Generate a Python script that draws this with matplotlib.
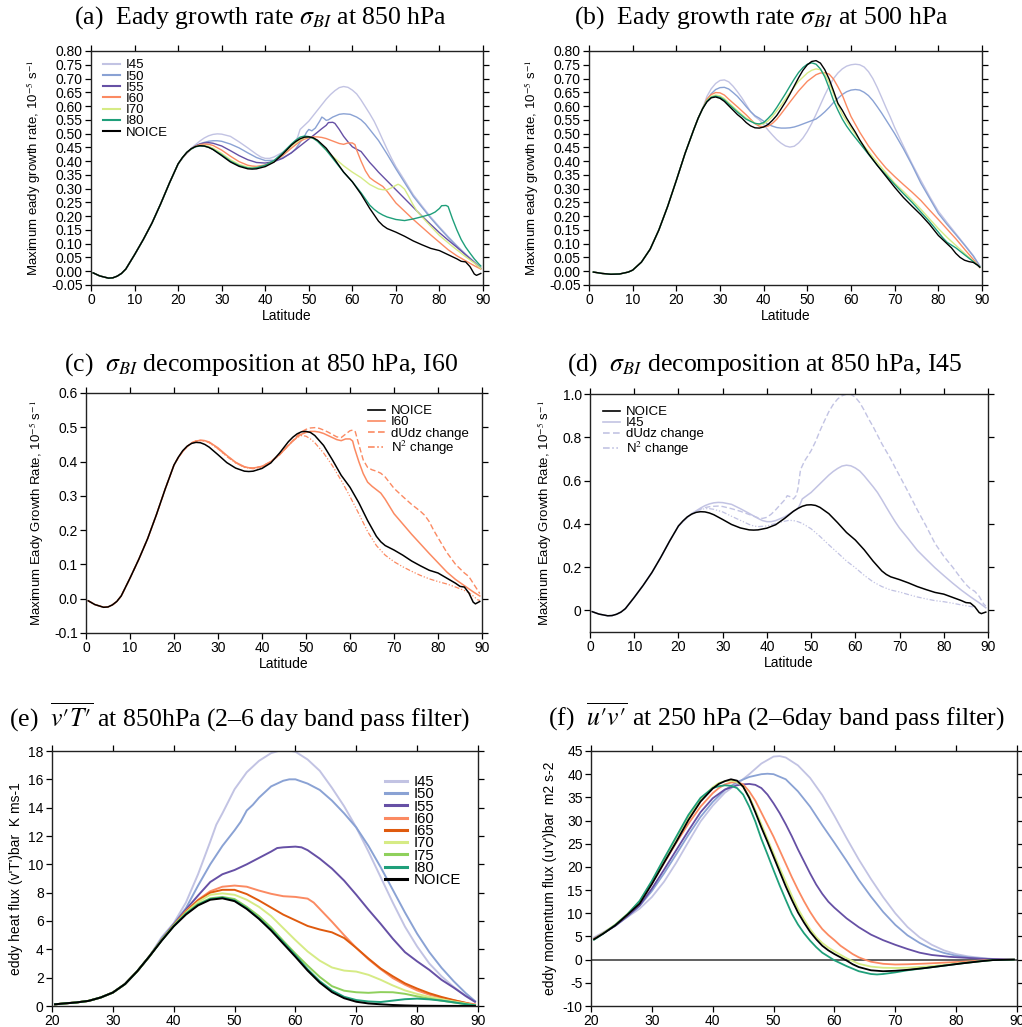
import numpy as np
import matplotlib
matplotlib.use("Agg")
import matplotlib.pyplot as plt

plt.rcParams['font.family'] = ['Liberation Sans', 'DejaVu Sans']
plt.rcParams['mathtext.fontset'] = 'stix'
plt.rcParams['axes.unicode_minus'] = False

# ---------------------------------------------------------------- colours
COLORS = {
    'I45': '#c2c3e3', 'I50': '#8aa2d4', 'I55': '#6650a5', 'I60': '#fb8a62',
    'I65': '#df5a0e', 'I70': '#d6eb85', 'I75': '#8fd05c', 'I80': '#1f9f7a',
    'NOICE': 'black',
}

# ------------------------------------------------ 850 hPa growth rate (a, c, d)
# all runs coincide south of 20N
g850_low = [(0.5, -0.006), (2, -0.017), (4, -0.025), (5, -0.024), (6, -0.018),
            (7, -0.008), (8, 0.008), (10, 0.06), (12, 0.115), (14, 0.175),
            (16, 0.245), (18, 0.32), (20, 0.39)]

g850_noice = [(21, 0.413), (22, 0.432), (23, 0.445), (24, 0.453), (25, 0.456),
              (26, 0.455), (27, 0.45), (28, 0.442), (30, 0.42), (32, 0.397),
              (34, 0.381), (36, 0.372), (37, 0.371), (38, 0.372), (40, 0.38),
              (42, 0.396), (44, 0.425), (46, 0.458), (47, 0.471), (48, 0.481),
              (49, 0.487), (50, 0.488), (51, 0.485), (52, 0.476), (54, 0.447),
              (56, 0.405), (58, 0.36), (60, 0.325), (62, 0.28), (64, 0.228),
              (66, 0.182), (67, 0.166), (68, 0.155), (70, 0.142), (72, 0.127),
              (74, 0.11), (76, 0.096), (78, 0.083), (80, 0.075), (82, 0.06),
              (84, 0.045), (85, 0.036), (86, 0.034), (87, 0.017), (88, -0.01),
              (88.5, -0.015), (89.5, -0.008)]

g850_i80 = [(21, 0.413), (22, 0.432), (23, 0.444), (24, 0.452), (25, 0.455),
            (26, 0.454), (27, 0.45), (28, 0.443), (30, 0.423), (32, 0.4),
            (34, 0.384), (36, 0.375), (37, 0.374), (38, 0.376), (40, 0.385),
            (42, 0.402), (44, 0.43), (46, 0.462), (47, 0.476), (48, 0.487),
            (49, 0.491), (50, 0.489), (51, 0.483), (52, 0.472), (54, 0.44),
            (56, 0.4), (58, 0.36), (60, 0.325), (62, 0.285), (64, 0.24),
            (65, 0.225), (66, 0.213), (67, 0.204), (68, 0.197), (70, 0.188),
            (72, 0.184), (74, 0.19), (76, 0.198), (78, 0.207), (79, 0.215),
            (80, 0.228), (80.5, 0.238), (81.5, 0.239), (82, 0.235), (83, 0.19),
            (84, 0.15), (85, 0.115), (86, 0.088), (87, 0.066), (88, 0.045),
            (89, 0.027), (89.5, 0.019)]

g850_i70 = [(21, 0.413), (22, 0.432), (23, 0.444), (24, 0.453), (25, 0.457),
            (26, 0.457), (27, 0.454), (28, 0.447), (30, 0.428), (32, 0.405),
            (34, 0.388), (36, 0.378), (37, 0.376), (38, 0.377), (40, 0.384),
            (42, 0.398), (44, 0.425), (46, 0.455), (48, 0.478), (49, 0.485),
            (50, 0.487), (51, 0.483), (52, 0.474), (54, 0.44), (56, 0.41),
            (58, 0.383), (60, 0.36), (62, 0.34), (64, 0.315), (66, 0.299),
            (67, 0.296), (68, 0.296), (69, 0.303), (70, 0.312), (70.5, 0.316),
            (71, 0.312), (72, 0.298), (73, 0.27), (74, 0.24), (75, 0.215),
            (77, 0.18), (80, 0.13), (83, 0.09), (86, 0.053), (88, 0.03),
            (89.5, 0.01)]

g850_i60 = [(21, 0.412), (22, 0.43), (23, 0.444), (24, 0.454), (25, 0.46),
            (26, 0.462), (27, 0.461), (28, 0.457), (30, 0.44), (32, 0.418),
            (34, 0.398), (36, 0.385), (37, 0.382), (38, 0.381), (40, 0.386),
            (42, 0.4), (44, 0.42), (46, 0.447), (48, 0.472), (49, 0.48),
            (50, 0.485), (51, 0.488), (52, 0.488), (53, 0.486), (54, 0.482),
            (55, 0.476), (56, 0.47), (57, 0.464), (58, 0.461), (59, 0.466),
            (60, 0.466), (60.6, 0.46), (61, 0.44), (62, 0.4), (63, 0.365),
            (64, 0.34), (65, 0.328), (66, 0.318), (67, 0.308), (68, 0.29),
            (70, 0.248), (72, 0.218), (74, 0.188), (76, 0.16), (78, 0.132),
            (80, 0.105), (82, 0.078), (84, 0.056), (86, 0.038), (88, 0.02),
            (89.5, 0.008)]

g850_i55 = [(21, 0.412), (22, 0.43), (23, 0.444), (24, 0.455), (25, 0.462),
            (26, 0.466), (27, 0.467), (28, 0.465), (30, 0.455), (32, 0.438),
            (34, 0.42), (36, 0.405), (38, 0.395), (40, 0.393), (42, 0.398),
            (44, 0.41), (46, 0.43), (48, 0.455), (50, 0.48), (52, 0.505),
            (53, 0.518), (54, 0.53), (54.5, 0.54), (55.5, 0.541), (56, 0.537),
            (57, 0.515), (58, 0.49), (59, 0.47), (60, 0.452), (61, 0.443),
            (62, 0.435), (63, 0.415), (64, 0.395), (65, 0.378), (66, 0.36),
            (68, 0.328), (70, 0.296), (72, 0.264), (74, 0.232), (76, 0.2),
            (78, 0.17), (80, 0.14), (82, 0.113), (84, 0.087), (86, 0.06),
            (88, 0.032), (89.5, 0.01)]

g850_i50 = [(21, 0.412), (22, 0.43), (23, 0.444), (24, 0.455), (25, 0.463),
            (26, 0.468), (27, 0.472), (28, 0.474), (29, 0.474), (30, 0.472),
            (32, 0.462), (34, 0.448), (36, 0.43), (38, 0.413), (40, 0.402),
            (42, 0.403), (44, 0.412), (46, 0.43), (47, 0.445), (48, 0.468),
            (49, 0.49), (49.5, 0.505), (50, 0.515), (50.7, 0.51), (51.5, 0.52),
            (52.5, 0.545), (53, 0.56), (53.5, 0.555), (54, 0.548), (54.5, 0.55),
            (55.5, 0.56), (57, 0.57), (58, 0.572), (59.5, 0.57), (61, 0.56),
            (62, 0.55), (63, 0.535), (64, 0.515), (65, 0.495), (66, 0.475),
            (68, 0.425), (70, 0.372), (72, 0.322), (74, 0.272), (76, 0.232),
            (78, 0.193), (80, 0.157), (82, 0.123), (84, 0.091), (86, 0.06),
            (88, 0.032), (89.5, 0.011)]

g850_i45 = [(21, 0.41), (22, 0.43), (23, 0.447), (24, 0.46), (25, 0.473),
            (26, 0.484), (27, 0.492), (28, 0.497), (29, 0.499), (30, 0.498),
            (32, 0.49), (34, 0.47), (36, 0.448), (38, 0.425), (39, 0.415),
            (40, 0.41), (41, 0.41), (42, 0.415), (44, 0.432), (45, 0.445),
            (46, 0.458), (47, 0.47), (47.5, 0.49), (48, 0.515), (49, 0.53),
            (50, 0.545), (51, 0.565), (52, 0.585), (53, 0.605), (54, 0.625),
            (55, 0.642), (56, 0.656), (57, 0.667), (58, 0.671), (59, 0.668),
            (60, 0.658), (61, 0.644), (62, 0.622), (63, 0.597), (64, 0.572),
            (65, 0.545), (66, 0.512), (67, 0.477), (68, 0.443), (69, 0.41),
            (70, 0.38), (72, 0.33), (74, 0.278), (76, 0.237), (78, 0.197),
            (80, 0.161), (82, 0.126), (84, 0.093), (86, 0.063), (88, 0.035),
            (89.5, 0.012)]

# decomposition of the I60 change
g850_i60_dudz = [(21, 0.412), (22, 0.43), (23, 0.444), (24, 0.455), (25, 0.46),
                 (26, 0.462), (27, 0.461), (28, 0.456), (30, 0.438), (32, 0.416),
                 (34, 0.397), (36, 0.384), (37, 0.381), (38, 0.381), (40, 0.386),
                 (42, 0.4), (44, 0.42), (46, 0.448), (48, 0.475), (49, 0.487),
                 (50, 0.494), (51, 0.498), (52, 0.499), (53, 0.497), (54, 0.492),
                 (55, 0.486), (56, 0.479), (57, 0.472), (58, 0.47), (59, 0.48),
                 (60, 0.49), (60.7, 0.492), (61.2, 0.487), (62, 0.45), (63, 0.405),
                 (64, 0.383), (65, 0.376), (66, 0.372), (67, 0.366), (68, 0.355),
                 (70, 0.322), (72, 0.298), (74, 0.275), (76, 0.255), (77, 0.243),
                 (78, 0.225), (79, 0.2), (80, 0.178), (82, 0.135), (84, 0.1),
                 (86, 0.075), (87, 0.065), (88, 0.045), (89, 0.025), (89.5, 0.015)]

g850_i60_n2 = [(21, 0.412), (22, 0.43), (23, 0.444), (24, 0.454), (25, 0.459),
               (26, 0.461), (27, 0.46), (28, 0.455), (30, 0.437), (32, 0.415),
               (34, 0.396), (36, 0.383), (38, 0.379), (40, 0.384), (42, 0.398),
               (44, 0.42), (46, 0.447), (47, 0.46), (48, 0.47), (49, 0.476),
               (50, 0.474), (51, 0.466), (52, 0.455), (54, 0.425), (56, 0.388),
               (58, 0.345), (60, 0.298), (62, 0.248), (64, 0.196), (66, 0.155),
               (68, 0.127), (70, 0.108), (72, 0.093), (74, 0.08), (76, 0.068),
               (78, 0.058), (80, 0.05), (82, 0.043), (84, 0.034), (86, 0.024),
               (87, 0.018), (88, 0.008), (89, -0.003), (89.5, -0.005)]

# decomposition of the I45 change
g850_i45_dudz = [(21, 0.41), (22, 0.43), (23, 0.445), (24, 0.458), (25, 0.468),
                 (26, 0.475), (27, 0.479), (28, 0.481), (29, 0.482), (30, 0.48),
                 (32, 0.47), (34, 0.458), (36, 0.443), (38, 0.428), (39, 0.425),
                 (40, 0.43), (41, 0.445), (42, 0.465), (43, 0.488), (44, 0.51),
                 (44.6, 0.53), (45.3, 0.525), (46, 0.515), (46.6, 0.53), (47, 0.56),
                 (47.6, 0.65), (48.5, 0.69), (49.3, 0.715), (50, 0.738), (51, 0.78),
                 (52, 0.83), (53, 0.875), (54, 0.918), (55, 0.952), (56, 0.977),
                 (57, 0.992), (58, 0.999), (59, 0.998), (60, 0.985), (61, 0.96),
                 (62, 0.925), (63, 0.885), (64, 0.85), (65, 0.81), (66, 0.77),
                 (67, 0.735), (68, 0.7), (69, 0.66), (70, 0.622), (72, 0.545),
                 (74, 0.465), (76, 0.39), (78, 0.31), (80, 0.25), (82, 0.2),
                 (84, 0.145), (85, 0.12), (86, 0.1), (87, 0.088), (88, 0.065),
                 (89, 0.03), (89.5, 0.02)]

g850_i45_n2 = [(21, 0.41), (22, 0.43), (23, 0.446), (24, 0.458), (25, 0.466),
               (26, 0.47), (27, 0.47), (28, 0.467), (30, 0.455), (32, 0.435),
               (34, 0.416), (36, 0.397), (37, 0.39), (38, 0.387), (40, 0.39),
               (42, 0.402), (44, 0.412), (45, 0.416), (46, 0.415), (47, 0.41),
               (48, 0.402), (50, 0.377), (52, 0.342), (54, 0.303), (56, 0.266),
               (58, 0.228), (60, 0.197), (62, 0.162), (64, 0.132), (66, 0.11),
               (68, 0.094), (70, 0.085), (72, 0.073), (74, 0.062), (76, 0.053),
               (78, 0.045), (80, 0.04), (82, 0.033), (84, 0.025), (86, 0.018),
               (87, 0.015)]

# ------------------------------------------------ 500 hPa growth rate (b)
g500_low = [(1, -0.003), (3, -0.008), (5, -0.011), (7, -0.01), (9, -0.003),
            (10, 0.004), (12, 0.033), (14, 0.08), (16, 0.15), (18, 0.235),
            (20, 0.33), (22, 0.428), (24, 0.515), (25, 0.556), (26, 0.59)]

g500_noice = [(27, 0.615), (28, 0.63), (29, 0.633), (30, 0.628), (31, 0.617),
              (32, 0.601), (33, 0.585), (34, 0.569), (35, 0.556), (36, 0.54),
              (37, 0.528), (38, 0.521), (39, 0.52), (40, 0.524), (41, 0.533),
              (42, 0.548), (43, 0.566), (44, 0.59), (45, 0.615), (46, 0.643),
              (47, 0.673), (48, 0.703), (49, 0.73), (50, 0.75), (51, 0.762),
              (52, 0.765), (53, 0.756), (54, 0.732), (55, 0.698), (56, 0.655),
              (57, 0.61), (58, 0.585), (59, 0.556), (60, 0.53), (61, 0.505),
              (62, 0.477), (64, 0.427), (66, 0.385), (68, 0.345), (70, 0.305),
              (72, 0.268), (74, 0.236), (76, 0.205), (78, 0.17), (80, 0.13),
              (82, 0.1), (83, 0.085), (84, 0.065), (85, 0.05), (86, 0.04),
              (87, 0.035), (88, 0.032), (89, 0.022), (89.5, 0.015)]

g500_i80 = [(27, 0.618), (28, 0.632), (29, 0.636), (30, 0.632), (31, 0.622),
            (32, 0.607), (34, 0.578), (36, 0.552), (38, 0.537), (39, 0.535),
            (40, 0.54), (41, 0.555), (42, 0.572), (43, 0.595), (44, 0.62),
            (45, 0.645), (46, 0.672), (47, 0.698), (48, 0.722), (49, 0.74),
            (50, 0.752), (51, 0.757), (52, 0.752), (53, 0.735), (54, 0.706),
            (55, 0.665), (56, 0.62), (57, 0.585), (58, 0.553), (59, 0.527),
            (60, 0.505), (62, 0.465), (64, 0.425), (66, 0.385), (68, 0.35),
            (70, 0.315), (72, 0.282), (74, 0.25), (76, 0.215), (78, 0.18),
            (80, 0.142), (81, 0.122), (82, 0.105), (83, 0.095), (84, 0.085),
            (86, 0.06), (88, 0.035), (89.5, 0.015)]

g500_i70 = [(27, 0.62), (28, 0.635), (29, 0.64), (30, 0.637), (31, 0.627),
            (32, 0.612), (34, 0.583), (36, 0.556), (38, 0.538), (39, 0.533),
            (40, 0.536), (41, 0.546), (42, 0.562), (44, 0.603), (46, 0.648),
            (48, 0.69), (50, 0.72), (51, 0.73), (52, 0.735), (53, 0.732),
            (54, 0.715), (55, 0.685), (56, 0.645), (57, 0.605), (58, 0.57),
            (59, 0.545), (60, 0.52), (62, 0.475), (64, 0.435), (66, 0.395),
            (68, 0.358), (70, 0.32), (72, 0.29), (74, 0.258), (76, 0.225),
            (78, 0.19), (80, 0.155), (82, 0.123), (84, 0.094), (86, 0.065),
            (88, 0.036), (89.5, 0.015)]

g500_i60 = [(27, 0.625), (28, 0.642), (29, 0.649), (30, 0.648), (31, 0.64),
            (32, 0.625), (34, 0.597), (36, 0.568), (38, 0.536), (39, 0.527),
            (40, 0.524), (41, 0.527), (42, 0.537), (43, 0.552), (44, 0.572),
            (46, 0.614), (48, 0.655), (50, 0.69), (52, 0.714), (53, 0.72),
            (54, 0.721), (55, 0.716), (56, 0.698), (57, 0.67), (58, 0.64),
            (59, 0.6), (60, 0.562), (62, 0.505), (64, 0.455), (66, 0.413),
            (68, 0.375), (70, 0.344), (72, 0.315), (74, 0.287), (76, 0.257),
            (78, 0.222), (80, 0.188), (82, 0.153), (84, 0.118), (86, 0.08),
            (88, 0.043), (89.5, 0.013)]

g500_i50 = [(27, 0.622), (28, 0.645), (29, 0.66), (30, 0.667), (31, 0.668),
            (32, 0.662), (33, 0.649), (34, 0.635), (35, 0.617), (36, 0.598),
            (37, 0.58), (38, 0.565), (39, 0.556), (40, 0.545), (41, 0.534),
            (42, 0.527), (43, 0.522), (44, 0.52), (45, 0.52), (46, 0.521),
            (47, 0.524), (48, 0.529), (49, 0.535), (50, 0.541), (51, 0.547),
            (52, 0.553), (53, 0.565), (54, 0.579), (55, 0.595), (56, 0.613),
            (57, 0.628), (58, 0.642), (59, 0.652), (60, 0.658), (61, 0.66),
            (62, 0.658), (63, 0.65), (64, 0.638), (65, 0.62), (66, 0.598),
            (67, 0.575), (68, 0.55), (70, 0.5), (72, 0.445), (74, 0.385),
            (76, 0.32), (78, 0.265), (80, 0.21), (82, 0.17), (84, 0.133),
            (86, 0.095), (88, 0.055), (89.5, 0.018)]

g500_i45 = [(27, 0.635), (28, 0.663), (29, 0.682), (30, 0.693), (31, 0.695),
            (32, 0.688), (33, 0.672), (34, 0.652), (35, 0.63), (36, 0.605),
            (37, 0.58), (38, 0.562), (39, 0.55), (40, 0.532), (41, 0.513),
            (42, 0.495), (43, 0.478), (44, 0.465), (45, 0.455), (46, 0.451),
            (47, 0.454), (48, 0.466), (49, 0.484), (50, 0.508), (51, 0.537),
            (52, 0.57), (53, 0.605), (54, 0.64), (55, 0.672), (56, 0.7),
            (57, 0.72), (58, 0.735), (59, 0.745), (60, 0.75), (61, 0.752),
            (62, 0.75), (63, 0.742), (64, 0.725), (65, 0.7), (66, 0.668),
            (67, 0.632), (68, 0.595), (69, 0.56), (70, 0.522), (72, 0.455),
            (74, 0.39), (76, 0.33), (78, 0.272), (80, 0.218), (82, 0.177),
            (84, 0.137), (86, 0.097), (88, 0.057), (89.5, 0.02)]

# ------------------------------------------------ v'T' at 850 hPa (e)
vt_low = [(20.5, 0.12), (22, 0.18), (24, 0.25), (26, 0.36), (28, 0.6),
          (30, 0.95), (32, 1.55), (34, 2.45), (36, 3.5)]

vt_noice = [(38, 4.6), (40, 5.62), (42, 6.45), (44, 7.1), (46, 7.5), (48, 7.6),
            (50, 7.4), (52, 6.85), (54, 6.15), (56, 5.33), (58, 4.4), (60, 3.47),
            (62, 2.5), (64, 1.65), (66, 0.98), (68, 0.55), (70, 0.3), (72, 0.18),
            (74, 0.12), (76, 0.07), (78, 0.04), (80, 0.02), (84, 0.01), (89.5, 0.0)]
vt_i80 = [(38, 4.62), (40, 5.65), (42, 6.5), (44, 7.15), (46, 7.55), (48, 7.65),
          (50, 7.45), (52, 6.9), (54, 6.2), (56, 5.4), (58, 4.5), (60, 3.58),
          (62, 2.6), (64, 1.75), (66, 1.1), (68, 0.65), (70, 0.42), (72, 0.32),
          (74, 0.28), (76, 0.38), (78, 0.48), (80, 0.52), (82, 0.47), (84, 0.38),
          (86, 0.26), (88, 0.13), (89.5, 0.05)]
vt_i75 = [(38, 4.63), (40, 5.66), (42, 6.55), (44, 7.2), (46, 7.6), (48, 7.7),
          (50, 7.55), (52, 7.0), (54, 6.35), (56, 5.55), (58, 4.6), (60, 3.7),
          (62, 2.85), (64, 2.05), (66, 1.4), (68, 1.08), (70, 0.97), (72, 0.93),
          (74, 0.98), (76, 0.97), (78, 0.86), (80, 0.68), (82, 0.52), (84, 0.38),
          (86, 0.25), (88, 0.13), (89.5, 0.05)]
vt_i70 = [(38, 4.64), (40, 5.68), (42, 6.6), (44, 7.35), (46, 7.85), (48, 7.95),
          (50, 7.85), (52, 7.5), (54, 7.0), (56, 6.35), (58, 5.5), (60, 4.65),
          (62, 3.85), (64, 3.2), (66, 2.72), (68, 2.5), (70, 2.43), (72, 2.2),
          (74, 1.85), (76, 1.45), (78, 1.1), (80, 0.85), (82, 0.65), (84, 0.48),
          (86, 0.32), (88, 0.18), (89.5, 0.05)]
vt_i65 = [(38, 4.65), (40, 5.7), (42, 6.65), (44, 7.45), (46, 8.0), (48, 8.2),
          (50, 8.2), (52, 7.9), (54, 7.45), (56, 6.95), (58, 6.45), (60, 6.05),
          (62, 5.65), (64, 5.4), (66, 5.2), (68, 4.8), (70, 4.1), (72, 3.35),
          (74, 2.65), (76, 2.1), (78, 1.6), (80, 1.23), (82, 0.9), (84, 0.64),
          (86, 0.42), (88, 0.22), (89.5, 0.05)]
vt_i60 = [(38, 4.66), (40, 5.72), (42, 6.7), (44, 7.5), (46, 8.1), (48, 8.42),
          (50, 8.5), (52, 8.42), (54, 8.15), (56, 7.92), (58, 7.75), (60, 7.7),
          (62, 7.58), (63, 7.3), (64, 6.85), (66, 5.95), (68, 5.0), (70, 4.1),
          (72, 3.3), (74, 2.6), (76, 1.97), (78, 1.5), (80, 1.1), (82, 0.8),
          (84, 0.57), (86, 0.4), (88, 0.22), (89.5, 0.12)]
vt_i55 = [(38, 4.68), (40, 5.75), (42, 6.8), (44, 7.8), (46, 8.75), (48, 9.3),
          (50, 9.6), (52, 10.0), (54, 10.45), (56, 10.9), (57, 11.15), (58, 11.2),
          (60, 11.25), (61, 11.2), (62, 11.0), (64, 10.4), (66, 9.7), (68, 8.85),
          (70, 7.85), (72, 6.8), (74, 5.8), (76, 4.75), (78, 3.8), (80, 3.15),
          (82, 2.55), (84, 1.85), (86, 1.3), (88, 0.7), (89.5, 0.3)]
vt_i50 = [(38, 4.75), (40, 5.8), (42, 6.9), (44, 8.5), (46, 10.0), (48, 11.3),
          (50, 12.4), (51, 13.0), (52, 13.8), (53, 14.2), (54, 14.7), (56, 15.5),
          (58, 15.9), (59, 16.0), (60, 16.0), (62, 15.7), (64, 15.25), (66, 14.5),
          (68, 13.6), (70, 12.6), (72, 11.3), (74, 9.8), (76, 8.2), (78, 6.6),
          (80, 5.1), (82, 3.8), (84, 2.7), (86, 1.75), (88, 0.9), (89.5, 0.35)]
vt_i45 = [(38, 4.85), (40, 5.85), (42, 7.3), (44, 9.3), (46, 11.6), (47, 12.8),
          (48, 13.6), (50, 15.3), (52, 16.5), (54, 17.3), (56, 17.85), (58, 18.1),
          (60, 17.95), (62, 17.4), (64, 16.6), (66, 15.4), (68, 14.1), (70, 12.6),
          (72, 10.9), (74, 9.1), (76, 7.3), (78, 5.6), (80, 4.2), (82, 3.0),
          (84, 2.1), (86, 1.35), (88, 0.7), (89.5, 0.3)]

# ------------------------------------------------ u'v' at 250 hPa (f)
uv_noice = [(20.5, 4.4), (22, 5.6), (24, 7.4), (26, 9.7), (28, 12.1), (30, 16.3),
            (32, 20.9), (34, 25.4), (36, 30.1), (38, 34.1), (40, 36.9), (41, 37.9),
            (42, 38.5), (43, 38.9), (44, 38.6), (45, 37.3), (46, 34.9), (47, 31.8),
            (48, 28.5), (49, 25.4), (50, 22.2), (51, 19.0), (52, 15.8), (53, 12.9),
            (54, 10.2), (55, 8.0), (56, 6.0), (57, 4.4), (58, 3.0), (59, 2.0),
            (60, 1.2), (61, 0.5), (62, -0.2), (63, -1.0), (64, -1.6), (66, -2.3),
            (68, -2.5), (70, -2.4), (72, -2.2), (75, -1.8), (78, -1.3), (81, -0.8),
            (84, -0.35), (86, -0.1), (89.5, 0.0)]
uv_i80 = [(20.5, 4.3), (22, 5.6), (24, 7.5), (26, 9.8), (28, 12.7), (30, 17.0),
          (32, 21.8), (34, 26.5), (36, 31.2), (38, 34.9), (40, 37.0), (41, 37.4),
          (42, 37.6), (43, 37.5), (44, 37.0), (45, 35.6), (46, 33.0), (47, 29.8),
          (48, 26.0), (49, 22.7), (50, 19.3), (51, 16.0), (52, 12.9), (53, 9.9),
          (54, 7.6), (55, 5.7), (56, 4.1), (57, 2.7), (58, 1.5), (60, -0.15),
          (62, -1.4), (64, -2.5), (66, -3.1), (67, -3.2), (68, -3.1), (70, -2.75),
          (72, -2.3), (75, -1.8), (78, -1.3), (81, -0.8), (84, -0.35), (86, -0.1),
          (89.5, 0.0)]
uv_i70 = [(20.5, 4.4), (22, 5.7), (24, 7.6), (26, 9.9), (28, 12.6), (30, 16.8),
          (32, 21.6), (34, 26.3), (36, 30.8), (38, 34.6), (40, 37.2), (41, 38.1),
          (42, 38.5), (43, 38.6), (44, 38.3), (45, 37.3), (46, 35.2), (47, 32.3),
          (48, 29.2), (49, 26.0), (50, 22.9), (51, 19.8), (52, 16.8), (53, 13.8),
          (54, 11.0), (55, 8.7), (56, 6.6), (57, 4.9), (58, 3.6), (59, 2.6),
          (60, 1.8), (62, 0.3), (64, -0.9), (66, -1.5), (68, -1.75), (70, -1.8),
          (72, -1.75), (75, -1.5), (78, -1.15), (81, -0.75), (84, -0.35),
          (86, -0.1), (89.5, 0.0)]
uv_i60 = [(20.5, 4.5), (22, 5.7), (24, 7.5), (26, 9.7), (28, 12.4), (30, 16.4),
          (32, 20.8), (34, 25.2), (36, 29.3), (38, 33.0), (40, 35.9), (41, 37.0),
          (42, 37.8), (43, 38.2), (44, 38.3), (45, 37.8), (46, 36.3), (47, 34.3),
          (48, 31.7), (49, 29.1), (50, 26.5), (51, 23.6), (52, 20.7), (53, 17.8),
          (54, 15.1), (55, 12.6), (56, 10.3), (57, 8.3), (58, 6.6), (59, 5.3),
          (60, 4.2), (61, 3.0), (62, 2.1), (63, 1.2), (64, 0.5), (65, 0.0),
          (66, -0.45), (68, -0.9), (70, -1.05), (72, -1.0), (75, -0.85),
          (78, -0.65), (81, -0.45), (84, -0.2), (86, -0.05), (89.5, 0.0)]
uv_i55 = [(20.5, 4.5), (22, 5.7), (24, 7.3), (26, 9.4), (28, 11.7), (30, 15.3),
          (32, 19.4), (34, 23.6), (36, 27.8), (38, 31.8), (40, 34.8), (42, 36.7),
          (44, 37.6), (45, 37.8), (46, 37.9), (47, 37.7), (48, 37.0), (49, 35.6),
          (50, 33.7), (51, 31.6), (52, 29.2), (53, 26.6), (54, 23.8), (55, 21.2),
          (56, 18.6), (57, 16.2), (58, 14.2), (59, 12.5), (60, 11.2), (62, 8.9),
          (64, 7.0), (66, 5.4), (68, 4.2), (70, 3.2), (72, 2.3), (74, 1.5),
          (76, 1.0), (79, 0.6), (84, 0.2), (89.5, 0.0)]
uv_i50 = [(20.5, 4.5), (22, 5.7), (24, 7.3), (26, 9.3), (28, 11.6), (30, 14.8),
          (32, 18.6), (34, 22.7), (36, 26.9), (38, 30.8), (40, 34.0), (42, 36.6),
          (44, 38.3), (46, 39.4), (48, 40.0), (49, 40.1), (50, 40.0), (52, 38.9),
          (54, 36.3), (56, 33.0), (58, 29.0), (60, 25.2), (62, 21.3), (64, 17.2),
          (66, 13.6), (68, 10.3), (70, 7.5), (72, 5.25), (74, 3.6), (76, 2.3),
          (78, 1.45), (80, 0.85), (82, 0.5), (84, 0.25), (86, 0.1), (89.5, 0.0)]
uv_i45 = [(20.5, 4.8), (22, 5.9), (24, 7.4), (26, 9.2), (28, 11.0), (30, 13.5),
          (32, 16.8), (34, 20.9), (36, 25.4), (38, 29.8), (40, 33.2), (42, 36.0),
          (44, 37.9), (46, 40.0), (48, 42.3), (50, 43.8), (51, 43.9), (52, 43.6),
          (54, 41.9), (56, 39.2), (58, 35.5), (60, 31.0), (62, 26.2), (64, 21.6),
          (66, 17.4), (68, 13.5), (70, 10.0), (72, 7.05), (74, 4.8), (76, 3.2),
          (78, 2.0), (80, 1.2), (82, 0.7), (84, 0.4), (86, 0.15), (89.5, 0.0)]

# ------------------------------------------------ axis ticks
growth_ticks = np.round(np.arange(-0.05, 0.801, 0.05), 2)
lat_ticks = list(range(0, 91, 10))
decomp_c_ticks = [-0.1, 0.0, 0.1, 0.2, 0.3, 0.4, 0.5, 0.6]
decomp_d_ticks = [0, 0.2, 0.4, 0.6, 0.8, 1.0]
decomp_d_labels = ['0', '0.2', '0.4', '0.6', '0.8', '1.0']
vt_ticks = list(range(0, 19, 2))
uv_ticks = list(range(-10, 46, 5))
flux_lat_ticks = list(range(20, 91, 10))

N2_DASH = (0, (4, 1.5, 1, 1.5, 1, 1.5))
GROWTH_LABEL = 'Maximum eady growth rate, 10$^{-5}$ s$^{-1}$'
DECOMP_LABEL = 'Maximum Eady Growth Rate, 10$^{-5}$ s$^{-1}$'


def xy(*parts):
    pts = np.array([p for part in parts for p in part])
    return pts[:, 0], pts[:, 1]


def style(ax, xlim, xticks, ylim, yticks, ylabels=None):
    ax.set_xlim(*xlim)
    ax.set_ylim(*ylim)
    ax.set_xticks(xticks)
    ax.set_yticks(yticks)
    if ylabels is not None:
        ax.set_yticklabels(ylabels)
    ax.tick_params(direction='out', top=True, right=True, length=4, width=0.9,
                   labelsize=10, pad=2)
    for sp in ax.spines.values():
        sp.set_linewidth(1.0)
        sp.set_color('#222222')


def legend(ax, anchor, handles=None, labels=None, fontsize=9.5, lw=1.5,
           spacing=-0.08, hlen=1.3):
    if handles is None:
        handles, labels = ax.get_legend_handles_labels()
    leg = ax.legend(handles, labels, loc='upper left', bbox_to_anchor=anchor,
                    frameon=False, fontsize=fontsize, borderpad=0, borderaxespad=0,
                    labelspacing=spacing, handlelength=hlen, handletextpad=0.45)
    for h in leg.legend_handles:
        h.set_linewidth(lw)
    return leg


fig = plt.figure(figsize=(10.22, 10.27), dpi=100)
W, H = 1022.0, 1027.0


def add_axes(left, top, right, bottom):
    return fig.add_axes([left / W, 1 - bottom / H, (right - left) / W, (bottom - top) / H])


ax_a = add_axes(91, 51, 483, 285)
ax_b = add_axes(589, 51, 982, 285)
ax_c = add_axes(86, 393, 482, 633)
ax_d = add_axes(590, 394, 988, 632)
ax_e = add_axes(52, 751, 478, 1006)
ax_f = add_axes(591, 751, 1017, 1006)

# (a) growth rate at 850 hPa
for name, ser in [('I45', g850_i45), ('I50', g850_i50), ('I55', g850_i55),
                  ('I60', g850_i60), ('I70', g850_i70), ('I80', g850_i80),
                  ('NOICE', g850_noice)]:
    x, y = xy(g850_low, ser)
    ax_a.plot(x, y, color=COLORS[name], lw=1.0, label=name)
style(ax_a, (0, 90), lat_ticks, (-0.05, 0.8), growth_ticks,
      ['%.2f' % t for t in growth_ticks])
ax_a.set_xlabel('Latitude', fontsize=10, labelpad=1)
ax_a.set_ylabel(GROWTH_LABEL, fontsize=9.5, labelpad=6)
legend(ax_a, (0.03, 0.965))

# (b) growth rate at 500 hPa
for name, ser in [('I45', g500_i45), ('I50', g500_i50), ('I60', g500_i60),
                  ('I70', g500_i70), ('I80', g500_i80), ('NOICE', g500_noice)]:
    x, y = xy(g500_low, ser)
    ax_b.plot(x, y, color=COLORS[name], lw=1.0, label=name)
style(ax_b, (0, 90), lat_ticks, (-0.05, 0.8), growth_ticks,
      ['%.2f' % t for t in growth_ticks])
ax_b.set_xlabel('Latitude', fontsize=10, labelpad=1)
ax_b.set_ylabel(GROWTH_LABEL, fontsize=9.5, labelpad=6)


def decomposition(ax, run, total, dudz, n2):
    c = COLORS[run]
    x, y = xy(g850_low, n2)
    ax.plot(x, y, color=c, lw=0.9, ls=N2_DASH, label='N$^2$ change')
    x, y = xy(g850_low, dudz)
    ax.plot(x, y, color=c, lw=1.0, ls=(0, (4, 2)), label='dUdz change')
    x, y = xy(g850_low, total)
    ax.plot(x, y, color=c, lw=1.1, label=run)
    x, y = xy(g850_low, g850_noice)
    ax.plot(x, y, color='black', lw=1.1, label='NOICE')
    ax.set_xlabel('Latitude', fontsize=10, labelpad=1)
    ax.set_ylabel(DECOMP_LABEL, fontsize=9.5, labelpad=6)
    h, l = ax.get_legend_handles_labels()
    return h[::-1], l[::-1]


# (c) decomposition, I60
h, l = decomposition(ax_c, 'I60', g850_i60, g850_i60_dudz, g850_i60_n2)
style(ax_c, (0, 90), lat_ticks, (-0.1, 0.6), decomp_c_ticks,
      ['%.1f' % t for t in decomp_c_ticks])
legend(ax_c, (0.712, 0.95), h, l, lw=1.2)

# (d) decomposition, I45
h, l = decomposition(ax_d, 'I45', g850_i45, g850_i45_dudz, g850_i45_n2)
style(ax_d, (0, 90), lat_ticks, (-0.1, 1.0), decomp_d_ticks, decomp_d_labels)
legend(ax_d, (0.033, 0.95), h, l, lw=1.2)

# (e) eddy heat flux at 850 hPa
for name, ser in [('I45', vt_i45), ('I50', vt_i50), ('I55', vt_i55), ('I60', vt_i60),
                  ('I65', vt_i65), ('I70', vt_i70), ('I75', vt_i75), ('I80', vt_i80),
                  ('NOICE', vt_noice)]:
    x, y = xy(vt_low, ser)
    ax_e.plot(x, y, color=COLORS[name], lw=1.4, label=name)
style(ax_e, (20, 90), flux_lat_ticks, (0, 18), vt_ticks)
ax_e.set_ylabel("eddy heat flux (v'T')bar  K ms-1", fontsize=10, labelpad=4)
legend(ax_e, (0.782, 0.905), fontsize=10.7, lw=2.2, hlen=1.45, spacing=-0.12)

# (f) eddy momentum flux at 250 hPa
ax_f.axhline(0, color='#444444', lw=1.2, zorder=1)
for name, ser in [('I45', uv_i45), ('I50', uv_i50), ('I55', uv_i55), ('I60', uv_i60),
                  ('I70', uv_i70), ('I80', uv_i80), ('NOICE', uv_noice)]:
    x, y = xy(ser)
    ax_f.plot(x, y, color=COLORS[name], lw=1.3, label=name, zorder=2)
style(ax_f, (20, 90), flux_lat_ticks, (-10, 45), uv_ticks)
ax_f.set_ylabel("eddy momentum flux (u'v')bar  m2 s-2", fontsize=10, labelpad=4)

# panel titles
TITLE_FONT = dict(family='Liberation Serif', fontsize=18.5, ha='center', va='center')
fig.text(261 / W, 1 - 18 / H, r'(a)  Eady growth rate $\sigma_{BI}$ at 850 hPa', **TITLE_FONT)
fig.text(761 / W, 1 - 18 / H, r'(b)  Eady growth rate $\sigma_{BI}$ at 500 hPa', **TITLE_FONT)
fig.text(261 / W, 1 - 365 / H, r'(c)  $\sigma_{BI}$ decomposition at 850 hPa, I60', **TITLE_FONT)
fig.text(765 / W, 1 - 365 / H, r'(d)  $\sigma_{BI}$ decomposition at 850 hPa, I45', **TITLE_FONT)
fig.text(240 / W, 1 - 717 / H, r"(e)  $\overline{v′T′}$ at 850hPa (2–6 day band pass filter)",
         **TITLE_FONT)
fig.text(776 / W, 1 - 717 / H, r"(f)  $\overline{u′v′}$ at 250 hPa (2–6day band pass filter)",
         **TITLE_FONT)

fig.savefig('out.png', dpi=100)
